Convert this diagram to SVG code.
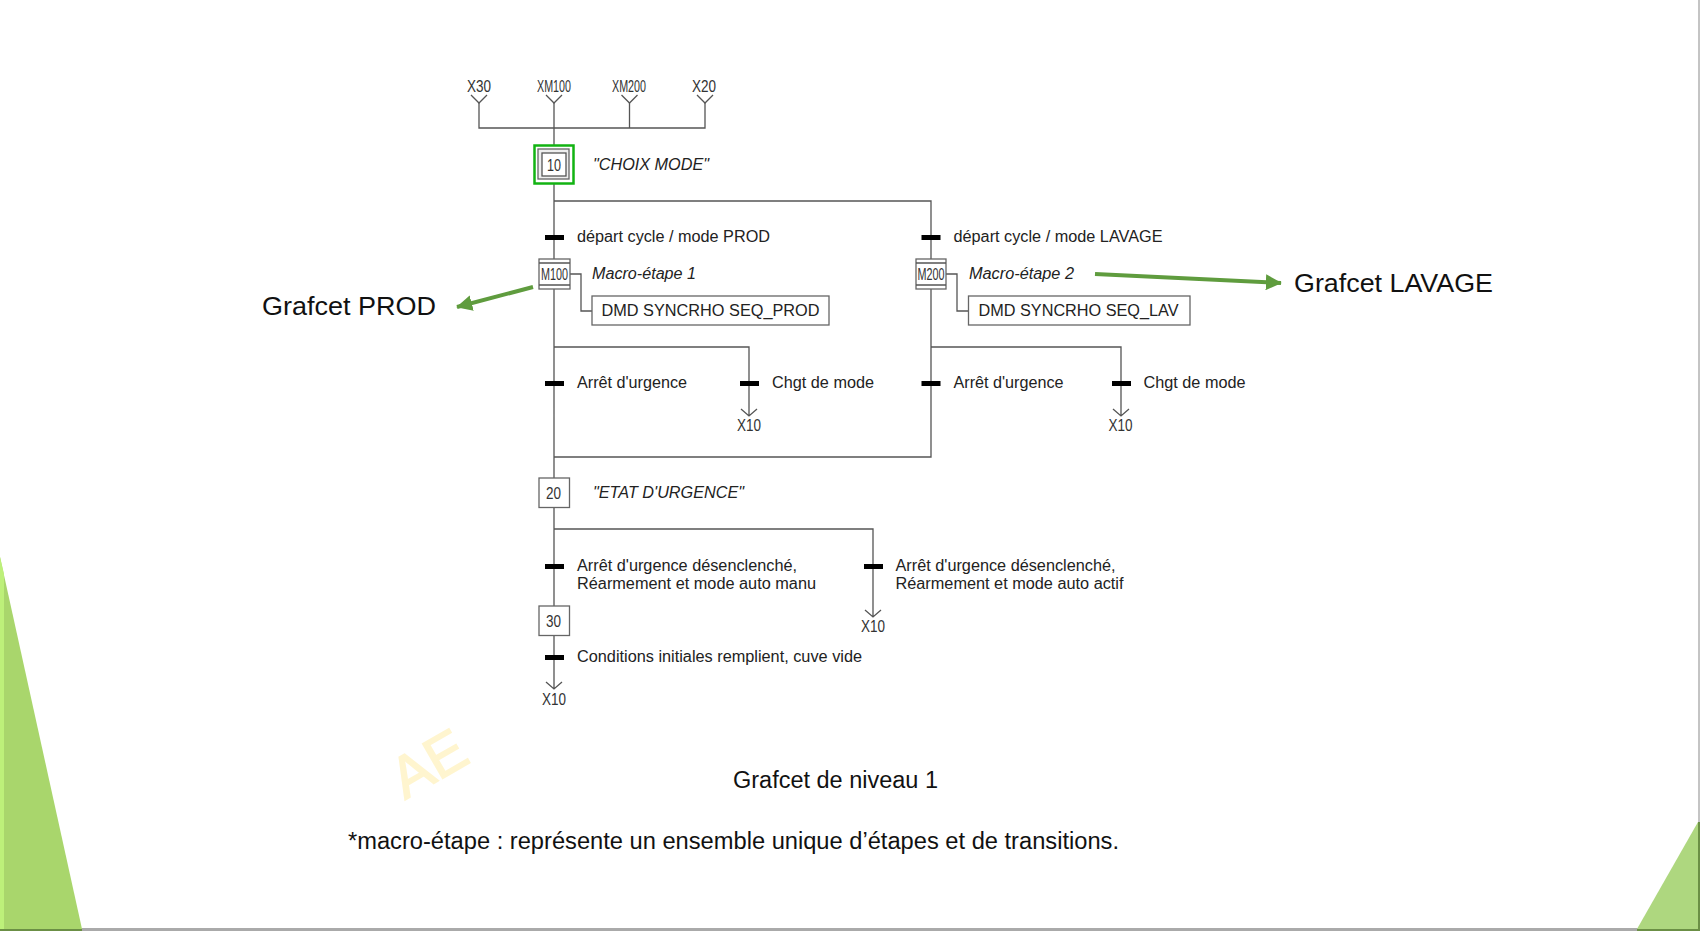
<svg xmlns="http://www.w3.org/2000/svg" width="1700" height="931" viewBox="0 0 1700 931">
<style>
text{font-family:"Liberation Sans",Arial,sans-serif;fill:#222}
.l{fill:none;stroke:#555;stroke-width:1.3}
.box{fill:#fff;stroke:#666;stroke-width:1.3}
.bar{fill:#000;stroke:none}
.t{font-size:16px}
.i{font-size:16px;font-style:italic}
.n{font-size:16.500px;fill:#333;text-anchor:middle}
.big{font-size:26px;fill:#111}
.note{font-size:23px;fill:#111}
.g{fill:none;stroke:#5f9c3e;stroke-width:4}
</style>
<defs>
<marker id="ah" viewBox="0 0 10 10" refX="9.500" refY="5" markerWidth="4" markerHeight="4" orient="auto" markerUnits="strokeWidth"><path d="M0 0L10 5L0 10Z" fill="#5f9c3e"/></marker>
</defs>
<rect width="1700" height="931" fill="#fff"/>
<g id="background">
<rect x="0" y="928" width="1700" height="3" fill="#aaa"/>
<rect x="1698" y="0" width="2" height="931" fill="#c4c4c4"/>
<polygon points="0,557 82,929 0,929" fill="#a9d66c"/>
<polygon points="0,557 4,574 4,929 0,929" fill="#bdf07a"/>
<polygon points="1698,822 1698,929 1637,929" fill="#aed77f"/>
<rect x="0" y="929" width="82" height="2" fill="#6b8f45"/>
<rect x="1637" y="929" width="63" height="2" fill="#6b8f45"/>
<rect x="1698" y="822" width="2" height="109" fill="#6b8f45"/>
</g>
<text id="watermark" transform="translate(405 800) rotate(-30)" style="font-size:58px;fill:#fff5cf;stroke:#fff5cf;stroke-width:1.500">AE</text>
<g id="connectors" class="l">
<path class="l" d="M479 103V128H705V103M629.500 103V128"/>
<path class="l" d="M471 95L479 103L487 95M546 95L554 103L562 95M621.500 95L629.500 103L637.500 95M697 95L705 103L713 95"/>
<path class="l" d="M554 103V145M554 183V259M554 201H931V259"/>
<path class="l" d="M554 289V478M554 347H749V416M741 409L749 416L757 409"/>
<path class="l" d="M931 289V457H554M931 347H1121V416M1113 409L1121 416L1129 409"/>
<path class="l" d="M570 274H581V311H592M946 274H957V311H968"/>
<path class="l" d="M554 507V606M554 529H873V617M865 610L873 617L881 610"/>
<path class="l" d="M554 635V689M546 682L554 689L562 682"/>
<rect class="bar" x="545" y="235" width="19" height="5"/>
<rect class="bar" x="921.500" y="235" width="19" height="5"/>
<rect class="bar" x="545" y="381" width="19" height="5"/>
<rect class="bar" x="740" y="381" width="19" height="5"/>
<rect class="bar" x="921.500" y="381" width="19" height="5"/>
<rect class="bar" x="1112" y="381" width="19" height="5"/>
<rect class="bar" x="545" y="564" width="19" height="5"/>
<rect class="bar" x="864" y="564" width="19" height="5"/>
<rect class="bar" x="545" y="655" width="19" height="5"/>
</g>
<g id="refs">
<text class="n" x="479" y="92" textLength="24" lengthAdjust="spacingAndGlyphs">X30</text>
<text class="n" x="554" y="92" textLength="34" lengthAdjust="spacingAndGlyphs">XM100</text>
<text class="n" x="629" y="92" textLength="34" lengthAdjust="spacingAndGlyphs">XM200</text>
<text class="n" x="704" y="92" textLength="24" lengthAdjust="spacingAndGlyphs">X20</text>
<text class="n" x="749" y="431" textLength="24" lengthAdjust="spacingAndGlyphs">X10</text>
<text class="n" x="1120.500" y="431" textLength="24" lengthAdjust="spacingAndGlyphs">X10</text>
<text class="n" x="873" y="632" textLength="24" lengthAdjust="spacingAndGlyphs">X10</text>
<text class="n" x="554" y="705" textLength="24" lengthAdjust="spacingAndGlyphs">X10</text>
</g>
<g id="step10">
<rect x="534.500" y="145.500" width="39" height="38" fill="#fff" stroke="#12b312" stroke-width="2.500"/>
<rect x="538" y="149" width="31" height="30" fill="#eee" stroke="#666" stroke-width="1.300"/>
<rect x="542" y="153" width="24" height="23" fill="#fff" stroke="#555" stroke-width="1.300"/>
<text class="n" x="554" y="171" textLength="14" lengthAdjust="spacingAndGlyphs">10</text>
<text class="i" x="593" y="170" textLength="116" lengthAdjust="spacingAndGlyphs">"CHOIX MODE"</text>
</g>
<g id="macroM100">
<rect class="box" x="539" y="259" width="31" height="30"/>
<path class="l" d="M539 263H570M539 285H570"/>
<text class="n" x="554.500" y="280" textLength="27" lengthAdjust="spacingAndGlyphs">M100</text>
<text class="i" x="592" y="279" textLength="104" lengthAdjust="spacingAndGlyphs">Macro-étape 1</text>
</g>
<g id="macroM200">
<rect class="box" x="916" y="259" width="30" height="30"/>
<path class="l" d="M916 263H946M916 285H946"/>
<text class="n" x="931" y="280" textLength="27" lengthAdjust="spacingAndGlyphs">M200</text>
<text class="i" x="969" y="279" textLength="105" lengthAdjust="spacingAndGlyphs">Macro-étape 2</text>
</g>
<g id="actionPROD">
<rect class="box" x="592" y="296" width="237" height="29"/>
<text class="t" x="601.500" y="316" textLength="218" lengthAdjust="spacingAndGlyphs">DMD SYNCRHO SEQ_PROD</text>
</g>
<g id="actionLAV">
<rect class="box" x="968.500" y="296" width="221.500" height="29"/>
<text class="t" x="978.500" y="316" textLength="200" lengthAdjust="spacingAndGlyphs">DMD SYNCRHO SEQ_LAV</text>
</g>
<g id="step20">
<rect class="box" x="539" y="478" width="30.500" height="29.500"/>
<text class="n" x="553.500" y="499" textLength="15" lengthAdjust="spacingAndGlyphs">20</text>
<text class="i" x="593" y="498" textLength="151" lengthAdjust="spacingAndGlyphs">"ETAT D'URGENCE"</text>
</g>
<g id="step30">
<rect class="box" x="539" y="606" width="30.500" height="29.500"/>
<text class="n" x="553.500" y="627" textLength="15" lengthAdjust="spacingAndGlyphs">30</text>
</g>
<g id="labels">
<text class="t" x="577" y="242" textLength="193" lengthAdjust="spacingAndGlyphs">départ cycle / mode PROD</text>
<text class="t" x="953.500" y="242" textLength="209" lengthAdjust="spacingAndGlyphs">départ cycle / mode LAVAGE</text>
<text class="t" x="577" y="388" textLength="110" lengthAdjust="spacingAndGlyphs">Arrêt d'urgence</text>
<text class="t" x="772" y="388" textLength="102" lengthAdjust="spacingAndGlyphs">Chgt de mode</text>
<text class="t" x="953.500" y="388" textLength="110" lengthAdjust="spacingAndGlyphs">Arrêt d'urgence</text>
<text class="t" x="1143.500" y="388" textLength="102" lengthAdjust="spacingAndGlyphs">Chgt de mode</text>
<text class="t" x="577" y="571" textLength="220" lengthAdjust="spacingAndGlyphs">Arrêt d'urgence désenclenché,</text>
<text class="t" x="577" y="589" textLength="239" lengthAdjust="spacingAndGlyphs">Réarmement et mode auto manu</text>
<text class="t" x="895.500" y="571" textLength="220" lengthAdjust="spacingAndGlyphs">Arrêt d'urgence désenclenché,</text>
<text class="t" x="895.500" y="589" textLength="228" lengthAdjust="spacingAndGlyphs">Réarmement et mode auto actif</text>
<text class="t" x="577" y="662" textLength="285" lengthAdjust="spacingAndGlyphs">Conditions initiales remplient, cuve vide</text>
</g>
<g id="annotations">
<path class="g" d="M533 287L457 307" marker-end="url(#ah)"/>
<path class="g" d="M1095 274L1281 283" marker-end="url(#ah)"/>
<text class="big" x="262" y="315" textLength="174" lengthAdjust="spacingAndGlyphs">Grafcet PROD</text>
<text class="big" x="1294" y="292" textLength="199" lengthAdjust="spacingAndGlyphs">Grafcet LAVAGE</text>
<text class="note" x="733" y="788" textLength="205" lengthAdjust="spacingAndGlyphs">Grafcet de niveau 1</text>
<text class="note" x="348" y="849" textLength="771" lengthAdjust="spacingAndGlyphs">*macro-étape : représente un ensemble unique d’étapes et de transitions.</text>
</g>
</svg>
